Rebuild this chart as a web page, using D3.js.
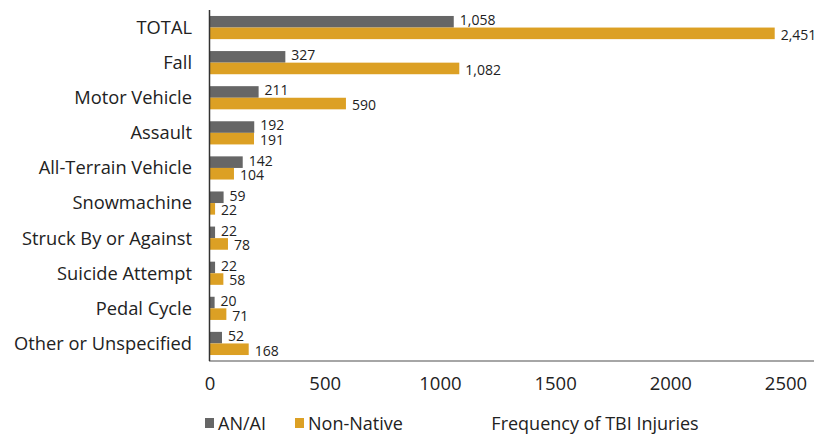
<!DOCTYPE html>
<html>
<head>
<meta charset="utf-8">
<script src="https://cdn.jsdelivr.net/npm/d3@7"></script>
<style>
  body { margin: 0; background: #fff; }
  text { font-family: "Open Sans", sans-serif; fill: #222; }
</style>
</head>
<body>
<div id="vis"></div>
<script>
const FRAME_WIDTH = 815;
const FRAME_HEIGHT = 435;
const MARGINS = {left: 210, right: 29, top: 10, bottom: 74};

const categories = ["TOTAL", "Fall", "Motor Vehicle", "Assault", "All-Terrain Vehicle",
  "Snowmachine", "Struck By or Against", "Suicide Attempt", "Pedal Cycle", "Other or Unspecified"];
const anai = [1058, 327, 211, 192, 142, 59, 22, 22, 20, 52];
const nonNative = [2451, 1082, 590, 191, 104, 22, 78, 58, 71, 168];
const seriesNames = ["AN/AI", "Non-Native"];
const colors = ["#666666", "#DCA024"];
const xTicks = [0, 500, 1000, 1500, 2000, 2500];

const FRAME = d3.select("#vis")
  .append("svg")
    .attr("width", FRAME_WIDTH)
    .attr("height", FRAME_HEIGHT);

const xScale = d3.scaleLinear().domain([0, 2500]).range([MARGINS.left, 786]);
const yScale = d3.scaleBand().domain(categories)
  .range([MARGINS.top, FRAME_HEIGHT - MARGINS.bottom]).paddingInner(0.34).paddingOuter(0.17);
const inner = d3.scaleBand().domain([0, 1]).range([0, yScale.bandwidth()]);

const fmt = d3.format(",");

const rows = categories.map((c, i) => ({cat: c, vals: [anai[i], nonNative[i]]}));

const groups = FRAME.selectAll(".row")
  .data(rows)
  .enter()
  .append("g")
    .attr("transform", d => "translate(0," + yScale(d.cat) + ")");

groups.selectAll("rect")
  .data(d => d.vals)
  .enter()
  .append("rect")
    .attr("x", xScale(0))
    .attr("y", (d, i) => inner(i))
    .attr("width", d => xScale(d) - xScale(0))
    .attr("height", inner.bandwidth())
    .attr("fill", (d, i) => colors[i]);

groups.selectAll(".val")
  .data(d => d.vals)
  .enter()
  .append("text")
    .attr("x", d => xScale(d) + 6)
    .attr("y", (d, i) => inner(i) + inner.bandwidth() / 2 + (i === 0 ? -1.5 : 1.5))
    .attr("dy", "0.35em")
    .attr("font-size", "14px")
    .text(d => fmt(d));

// category labels
FRAME.append("g")
  .selectAll("text")
  .data(categories)
  .enter()
  .append("text")
    .attr("x", 192)
    .attr("y", d => yScale(d) + yScale.bandwidth() / 2)
    .attr("dy", "0.35em")
    .attr("text-anchor", "end")
    .attr("font-size", "18.3px")
    .text(d => d);

// axes lines
const yBottom = FRAME_HEIGHT - MARGINS.bottom;
FRAME.append("line")
  .attr("x1", 209).attr("x2", 814)
  .attr("y1", yBottom).attr("y2", yBottom)
  .attr("stroke", "#888").attr("stroke-width", 1.5);
FRAME.append("line")
  .attr("x1", 209.5).attr("x2", 209.5)
  .attr("y1", MARGINS.top).attr("y2", yBottom)
  .attr("stroke", "#333").attr("stroke-width", 1.5);

// tick labels
FRAME.append("g")
  .selectAll("text")
  .data(xTicks)
  .enter()
  .append("text")
    .attr("x", d => xScale(d))
    .attr("y", 390)
    .attr("text-anchor", "middle")
    .attr("font-size", "18.5px")
    .text(d => d);

// legend
const legendX = [205, 295];
seriesNames.forEach((s, i) => {
  FRAME.append("rect")
    .attr("x", legendX[i]).attr("y", 418)
    .attr("width", 9).attr("height", 10)
    .attr("fill", colors[i]);
  FRAME.append("text")
    .attr("x", legendX[i] + 13).attr("y", 430)
    .attr("font-size", "18px")
    .text(s);
});

FRAME.append("text")
  .attr("x", 595).attr("y", 430)
  .attr("text-anchor", "middle")
  .attr("font-size", "18px")
  .text("Frequency of TBI Injuries");
</script>
</body>
</html>
